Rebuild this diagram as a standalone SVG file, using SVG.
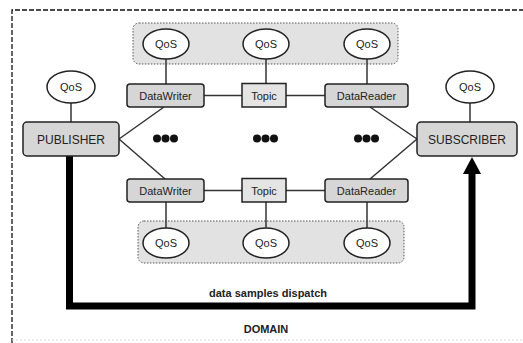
<svg xmlns="http://www.w3.org/2000/svg" width="523" height="343" viewBox="0 0 523 343">
<style>
.t{font-family:"Liberation Sans",Arial,sans-serif;fill:#222;text-anchor:middle}
.qos ellipse{fill:#fff;stroke:#222;stroke-width:1.5}
.qos text{font-size:11px}
.ent rect{fill:#d6d6d6;stroke:#222;stroke-width:1.5}
.ent text{font-size:11px}
.big text{font-size:12px}
.topic rect{fill:#e4e4e4;stroke:#222;stroke-width:1.5}
.grp{fill:#e2e2e2;stroke:#555;stroke-width:1;stroke-dasharray:1.5 1.5}
.ln{stroke:#333;stroke-width:1.5;fill:none}
.dot{fill:#111}
</style>
<rect width="523" height="343" fill="#fff"/>
<g id="domain-border" fill="none">
<path d="M12,343 V10 H523" stroke="#111" stroke-width="1.3" stroke-dasharray="5 2"/>
<path d="M12,340 H523" stroke="#ddd" stroke-width="1" stroke-dasharray="2 2"/>
</g>
<rect id="qos-group-top" class="grp" x="133" y="23" width="265" height="41" rx="6"/>
<rect id="qos-group-bottom" class="grp" x="138" y="221" width="266" height="42" rx="6"/>
<g id="connectors">
<line class="ln" x1="71" y1="103" x2="71" y2="122"/>
<line class="ln" x1="470" y1="103" x2="470" y2="122"/>
<line class="ln" x1="166" y1="59" x2="166" y2="84"/>
<line class="ln" x1="266" y1="59" x2="266" y2="83"/>
<line class="ln" x1="367" y1="59" x2="367" y2="84"/>
<line class="ln" x1="166" y1="202" x2="166" y2="228"/>
<line class="ln" x1="266" y1="202" x2="266" y2="228"/>
<line class="ln" x1="367" y1="202" x2="367" y2="228"/>
<line class="ln" x1="204" y1="95.5" x2="242" y2="95.5"/>
<line class="ln" x1="286" y1="95.5" x2="325" y2="95.5"/>
<line class="ln" x1="204" y1="190.5" x2="242" y2="190.5"/>
<line class="ln" x1="286" y1="190.5" x2="325" y2="190.5"/>
<line class="ln" x1="119" y1="139" x2="164" y2="107"/>
<line class="ln" x1="119" y1="139" x2="165" y2="179"/>
<line class="ln" x1="370" y1="107" x2="417" y2="139"/>
<line class="ln" x1="370" y1="179" x2="417" y2="139"/>
<path d="M69.5,156 V306 H472 V172" fill="none" stroke="#000" stroke-width="7"/>
<polygon points="472,157 463,174 481,174" fill="#000"/>
</g>
<g id="qos-publisher" class="qos"><ellipse cx="71" cy="87" rx="24" ry="16"/><text class="t" x="71" y="91">QoS</text></g>
<g id="qos-subscriber" class="qos"><ellipse cx="470" cy="87" rx="24" ry="16"/><text class="t" x="470" y="91">QoS</text></g>
<g id="qos-top-1" class="qos"><ellipse cx="166" cy="44" rx="23" ry="15"/><text class="t" x="166" y="48">QoS</text></g>
<g id="qos-top-2" class="qos"><ellipse cx="266" cy="44" rx="23" ry="15"/><text class="t" x="266" y="48">QoS</text></g>
<g id="qos-top-3" class="qos"><ellipse cx="367" cy="44" rx="23" ry="15"/><text class="t" x="367" y="48">QoS</text></g>
<g id="qos-bottom-1" class="qos"><ellipse cx="166" cy="243" rx="23" ry="15"/><text class="t" x="166" y="247">QoS</text></g>
<g id="qos-bottom-2" class="qos"><ellipse cx="266" cy="243" rx="23" ry="15"/><text class="t" x="266" y="247">QoS</text></g>
<g id="qos-bottom-3" class="qos"><ellipse cx="367" cy="243" rx="23" ry="15"/><text class="t" x="367" y="247">QoS</text></g>
<g id="publisher" class="ent big"><rect x="23" y="122" width="96" height="34" rx="4"/><text class="t" x="71" y="143.5">PUBLISHER</text></g>
<g id="subscriber" class="ent big"><rect x="417" y="122" width="100" height="34" rx="4"/><text class="t" x="467" y="143.5">SUBSCRIBER</text></g>
<g id="datawriter-top" class="ent"><rect x="127" y="84" width="77" height="23" rx="3"/><text class="t" x="165.5" y="99.5">DataWriter</text></g>
<g id="topic-top" class="topic"><rect x="242" y="83.5" width="44" height="23.5"/><text class="t" x="264" y="99.5" font-size="11">Topic</text></g>
<g id="datareader-top" class="ent"><rect x="325" y="84" width="83" height="23" rx="3"/><text class="t" x="366.5" y="99.5">DataReader</text></g>
<g id="datawriter-bottom" class="ent"><rect x="127" y="179" width="77" height="23" rx="3"/><text class="t" x="165.5" y="194.5">DataWriter</text></g>
<g id="topic-bottom" class="topic"><rect x="242" y="178.5" width="44" height="23.5"/><text class="t" x="264" y="194.5" font-size="11">Topic</text></g>
<g id="datareader-bottom" class="ent"><rect x="325" y="179" width="83" height="23" rx="3"/><text class="t" x="366.5" y="194.5">DataReader</text></g>
<g id="ellipsis-1"><circle class="dot" cx="157" cy="138.5" r="4"/><circle class="dot" cx="165.5" cy="138.5" r="4"/><circle class="dot" cx="174" cy="138.5" r="4"/></g>
<g id="ellipsis-2"><circle class="dot" cx="257" cy="138.5" r="4"/><circle class="dot" cx="265.5" cy="138.5" r="4"/><circle class="dot" cx="274" cy="138.5" r="4"/></g>
<g id="ellipsis-3"><circle class="dot" cx="358" cy="138.5" r="4"/><circle class="dot" cx="366.5" cy="138.5" r="4"/><circle class="dot" cx="375" cy="138.5" r="4"/></g>
<text class="t" x="268" y="297" font-size="11" font-weight="bold">data samples dispatch</text>
<text class="t" x="266" y="333" font-size="11" font-weight="bold">DOMAIN</text>
</svg>
